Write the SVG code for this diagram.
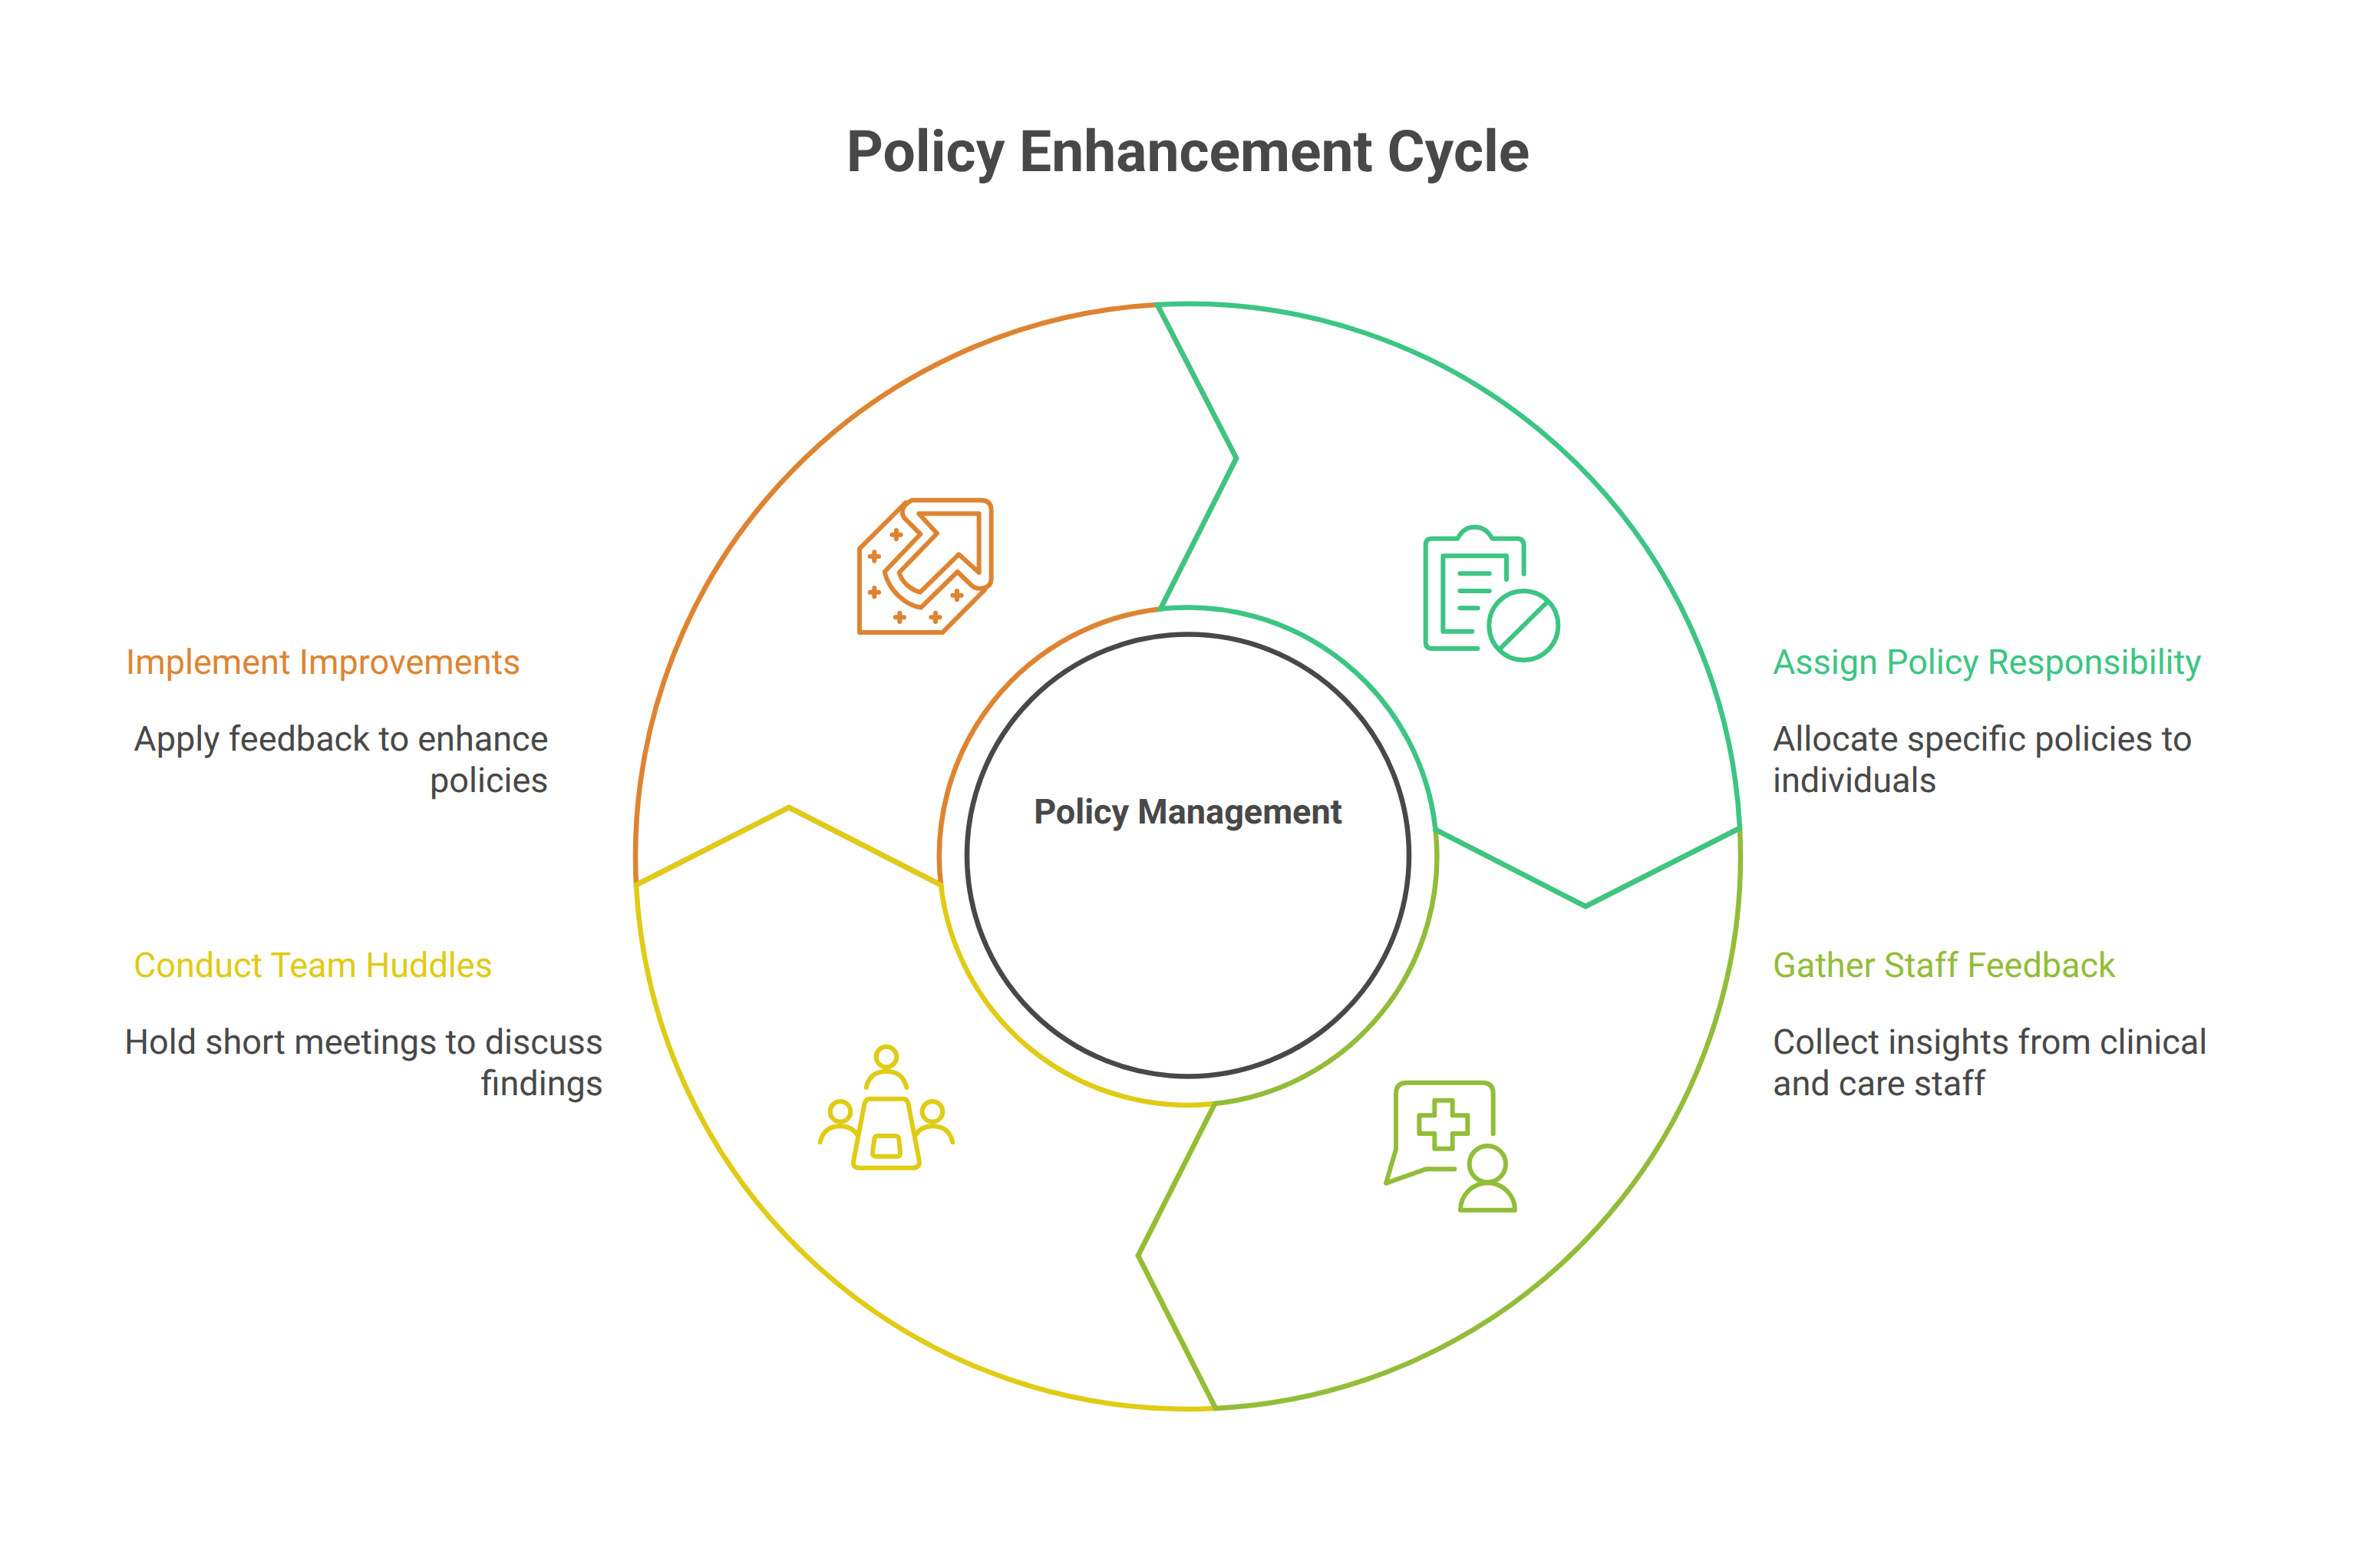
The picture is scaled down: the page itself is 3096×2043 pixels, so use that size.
<svg xmlns="http://www.w3.org/2000/svg" width="3096" height="2043" viewBox="0 0 3096 2043">
<style>
text{font-family:Roboto,"Liberation Sans",sans-serif;fill:#484848;text-rendering:geometricPrecision}
.t{font-size:75px;font-weight:700;text-anchor:middle}
.c{font-size:45px;font-weight:700;text-anchor:middle}
.h{font-size:45px;font-weight:400}
.b{font-size:45px;font-weight:400}
.r{text-anchor:end}
.seg{fill:none;stroke-width:6.5;stroke-linejoin:miter}
.ic{fill:none;stroke-width:18;stroke-linecap:round;stroke-linejoin:round}
.g{stroke:#3CC583}.l{stroke:#92BD39}.y{stroke:#E0CB15}.o{stroke:#DE8431}
</style>
<rect width="3096" height="2043" fill="#fff"/>
<text class="t" x="1548" y="223">Policy Enhancement Cycle</text>
<g id="connectors">
<path class="seg o" d="M829 1153A720 720 0 0 1 1508 397L1611 597L1512 793.5A324 324 0 0 0 1226 1153L1028 1052Z"/>
<path class="seg y" d="M1584 1835A720 720 0 0 1 829 1153L1028 1052L1226 1153A324 324 0 0 0 1583 1438L1483 1636Z"/>
<path class="seg l" d="M2267 1079A720 720 0 0 1 1584 1835L1483 1636L1583 1438A324 324 0 0 0 1870.5 1081L2066 1181Z"/>
<path class="seg g" d="M1508 397A720 720 0 0 1 2267 1079L2066 1181L1870.5 1081A324 324 0 0 0 1512 793.5L1611 597Z"/>
</g>
<g id="core">
<circle cx="1548" cy="1114.5" r="288" fill="none" stroke="#484848" stroke-width="6.5"/>
<text class="c" x="1548" y="1073">Policy Management</text>
</g>
<g id="implement">
<g class="ic o" transform="translate(1080 620) scale(.3333)">
<path d="M300 105L120 285V612H445L610 445"/>
<path d="M325 95H595Q635 95 635 135V400Q635 440 590 440Q570 440 560 430L503 375L360 515C300 505 235 450 218 375L358 228L295 165Q270 125 325 95Z"/>
<path d="M352 148H587V378L508 307L357 455C320 445 285 415 275 378L423 225Z"/>
<path d="M247 230H281M264 213V247M161 315H195M178 298V332M161 455H195M178 438V472M260 553H294M277 536V570M400 553H434M417 536V570M484 467H518M501 450V484"/>
</g>
<text class="h" x="164" y="878" style="fill:#DE8431">Implement Improvements</text>
<text class="b r" x="714.5" y="977.5">Apply feedback to enhance</text>
<text class="b r" x="714.5" y="1031.5">policies</text>
</g>
<g id="assign">
<g class="ic g" transform="translate(1820 660) scale(.3333)">
<path d="M316 555H138Q113 555 113 530V150Q113 125 138 125H238Q260 80 305 80Q350 80 373 125H470Q497 125 497 152V263"/>
<path d="M295 488H181V193H429V285"/>
<path d="M247 262H362M247 330H362M247 397H317"/>
<circle cx="496" cy="465" r="135"/>
<path d="M405 555L587 375"/>
</g>
<text class="h" x="2310" y="878" style="fill:#3CC583">Assign Policy Responsibility</text>
<text class="b" x="2310" y="977.5">Allocate specific policies to</text>
<text class="b" x="2310" y="1031.5">individuals</text>
</g>
<g id="gather">
<g class="ic l" transform="translate(1790 1390) scale(.3333)">
<path d="M467 262V105Q467 62 425 62H130Q87 62 87 105V322L48 455L203 400H316"/>
<path d="M238 131H308V190H367V261H308V320H238V261H178V190H238Z"/>
<circle cx="445" cy="380" r="71"/>
<path d="M339 560H552A106 106 0 0 0 339 560Z"/>
</g>
<text class="h" x="2310" y="1273" style="fill:#92BD39">Gather Staff Feedback</text>
<text class="b" x="2310" y="1373">Collect insights from clinical</text>
<text class="b" x="2310" y="1427">and care staff</text>
</g>
<g id="conduct">
<g class="ic y" transform="translate(1050 1350) scale(.3333)">
<circle cx="315" cy="81" r="40"/>
<path d="M236 201Q250 138 315 138Q380 138 394 201"/>
<circle cx="135" cy="295" r="40"/>
<path d="M56 415Q70 352 135 352Q180 352 203 388"/>
<circle cx="495" cy="295" r="40"/>
<path d="M574 415Q560 352 495 352Q450 352 428 388"/>
<path d="M250 245H380Q395 245 400 262L444 490Q444 515 420 515H210Q182 515 186 490L230 262Q235 245 250 245Z"/>
<path d="M280 390H350Q362 390 364 402L369 455Q370 470 358 470H272Q260 470 261 455L268 402Q270 390 280 390Z"/>
</g>
<text class="h" x="174" y="1273" style="fill:#E0CB15">Conduct Team Huddles</text>
<text class="b r" x="786" y="1373">Hold short meetings to discuss</text>
<text class="b r" x="786" y="1427">findings</text>
</g>
</svg>
